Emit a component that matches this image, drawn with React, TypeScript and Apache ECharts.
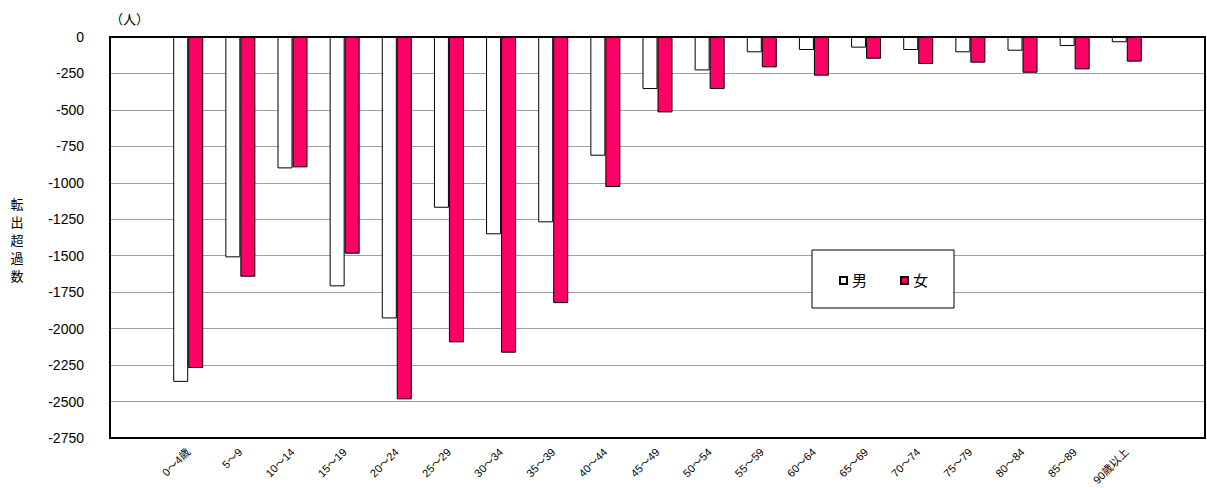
import React, { useEffect, useRef } from "react";
import * as echarts from "echarts";

const ageLabels = [
  "0～4歳", "5～9", "10～14", "15～19", "20～24", "25～29", "30～34", "35～39",
  "40～44", "45～49", "50～54", "55～59", "60～64", "65～69", "70～74", "75～79",
  "80～84", "85～89", "90歳以上",
];
const maleValues = [
  -2365, -1511, -901, -1710, -1930, -1171, -1353, -1271, -814, -357,
  -229, -105, -89, -73, -89, -105, -94, -62, -36,
];
const femaleValues = [
  -2270, -1644, -894, -1486, -2485, -2094, -2165, -1825, -1029, -517,
  -357, -208, -265, -149, -185, -176, -245, -222, -169,
];
const seriesNames = ["男", "女"];
const yMin = -2750;
const yMax = 0;
const yStep = 250;

const FONT = "'Liberation Sans', 'Noto Sans CJK JP', sans-serif";

export default function App() {
  const ref = useRef<HTMLDivElement>(null);
  useEffect(() => {
    if (!ref.current) return;
    const chart = echarts.init(ref.current, undefined, { renderer: "svg" });
    const cats = ["", ...ageLabels, ""];
    const pad = (arr: number[]) => [null, ...arr, null];
    chart.setOption({
      animation: false,
      backgroundColor: "#fff",
      grid: {
        left: 110,
        right: 2,
        top: 37,
        bottom: 50,
        show: true,
        borderColor: "#000",
        borderWidth: 2,
        backgroundColor: "transparent",
        z: 5,
      },
      xAxis: {
        type: "category",
        data: cats,
        position: "bottom",
        axisLine: { show: false },
        axisTick: { show: false },
        axisLabel: {
          interval: 0,
          rotate: 45,
          margin: 12,
          fontSize: 11,
          color: "#000",
          fontFamily: FONT,
        },
      },
      yAxis: {
        type: "value",
        min: yMin,
        max: yMax,
        interval: yStep,
        axisLine: { show: true, lineStyle: { color: "#000", width: 2 } },
        axisTick: { show: false },
        axisLabel: {
          fontSize: 14,
          color: "#000",
          margin: 26,
          fontFamily: FONT,
          formatter: (v: number) => String(v),
        },
        splitLine: { lineStyle: { color: "#a0a0a0", width: 1 } },
      },
      legend: {
        data: seriesNames,
        left: 839,
        top: 273,
        orient: "horizontal",
        itemWidth: 7,
        itemHeight: 7,
        itemGap: 33,
        padding: 0,
        icon: "rect",
        z: 20,
        textStyle: { fontSize: 15, color: "#000", fontFamily: FONT },
      },
      graphic: [
        {
          type: "rect",
          z: 10,
          shape: { x: 812, y: 250, width: 142, height: 58 },
          style: { fill: "#fff", stroke: "#000", lineWidth: 1 },
        },
        {
          type: "rect",
          z: 9,
          shape: { x: 110, y: 37, width: 1095, height: 401 },
          style: { fill: "none", stroke: "#000", lineWidth: 2 },
        },
        {
          type: "text",
          left: 110,
          top: 13,
          style: { text: "（人）", fontSize: 13, fill: "#000", fontFamily: FONT },
        },
        {
          type: "text",
          x: 17,
          y: 240,
          style: {
            text: "転\n出\n超\n過\n数",
            fontSize: 13,
            lineHeight: 18,
            fill: "#000",
            align: "center",
            verticalAlign: "middle",
            fontFamily: FONT,
          },
        },
      ],
      series: [
        {
          name: seriesNames[0],
          type: "bar",
          data: pad(maleValues),
          barWidth: 15,
          barGap: "0%",
          itemStyle: { color: "#ffffff", borderColor: "#000", borderWidth: 1 },
        },
        {
          name: seriesNames[1],
          type: "bar",
          data: pad(femaleValues),
          barWidth: 15,
          barGap: "0%",
          itemStyle: { color: "#ff0066", borderColor: "#000", borderWidth: 1 },
        },
      ],
    });
    return () => chart.dispose();
  }, []);
  return (
    <div
      ref={ref}
      style={{ position: "fixed", left: 0, top: 0, width: 1207, height: 488 }}
    />
  );
}
